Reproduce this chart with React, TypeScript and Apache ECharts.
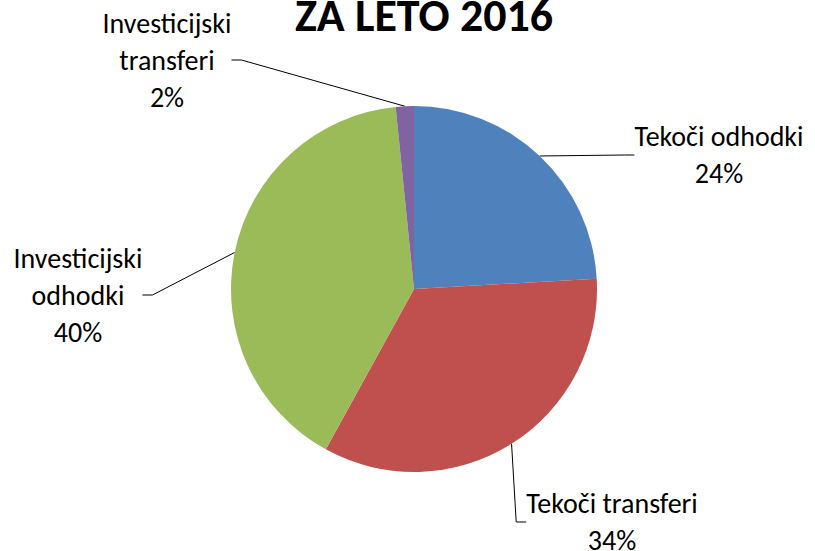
import React, { useEffect, useRef } from "react";
import * as echarts from "echarts";

const titleText = "ZA LETO 2016";
const categories = [
  "Tekoči odhodki",
  "Tekoči transferi",
  "Investicijski odhodki",
  "Investicijski transferi",
];
const labelNames = [
  "Tekoči odhodki",
  "Tekoči transferi",
  "Investicijski\nodhodki",
  "Investicijski\ntransferi",
];
const values = [24.1, 33.9, 40.4, 1.6];
const colors = ["#4F81BD", "#C0504D", "#9BBB59", "#8064A2"];

// label centre positions (layout only)
const labelPos: [number, number][] = [
  [719, 155],
  [612, 522],
  [78, 295],
  [167, 60],
];

const FONT = "Carlito, Lato, 'Liberation Sans', sans-serif";

export default function App() {
  const ref = useRef<HTMLDivElement>(null);
  useEffect(() => {
    if (!ref.current) return;
    const chart = echarts.init(ref.current, undefined, { renderer: "svg" });
    chart.setOption({
      animation: false,
      backgroundColor: "#ffffff",
      title: {
        text: titleText,
        left: 295,
        top: -8,
        padding: 0,
        textStyle: {
          fontFamily: FONT,
          fontWeight: "bold",
          fontSize: 46,
          lineHeight: 46,
          color: "#000",
        },
        itemGap: 0,
      },
      series: [
        {
          type: "pie",
          center: [414, 289],
          radius: 183,
          startAngle: 90,
          clockwise: true,
          avoidLabelOverlap: false,
          data: categories.map((c, i) => ({
            name: c,
            value: values[i],
            itemStyle: { color: colors[i] },
          })),
          label: {
            show: true,
            position: "outside",
            formatter: (p: any) =>
              labelNames[p.dataIndex] + "\n" + Math.round(p.percent) + "%",
            fontFamily: FONT,
            fontSize: 28,
            lineHeight: 37,
            color: "#000",
            align: "center",
          },
          labelLine: {
            show: true,
            length: 20,
            length2: 10,
            lineStyle: { color: "#000", width: 1 },
          },
          labelLayout: (p: any) => ({
            x: labelPos[p.dataIndex][0],
            y: labelPos[p.dataIndex][1],
            align: "center",
            verticalAlign: "middle",
          }),
          emphasis: { disabled: true },
        },
      ],
    });
    return () => chart.dispose();
  }, []);
  return (
    <div
      ref={ref}
      style={{ position: "absolute", left: 0, top: 0, width: 815, height: 551 }}
    />
  );
}
